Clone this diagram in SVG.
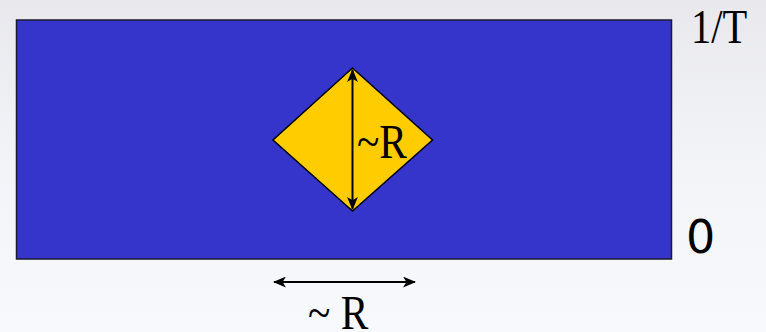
<svg xmlns="http://www.w3.org/2000/svg" width="766" height="332" viewBox="0 0 766 332">
<defs>
<linearGradient id="bg" x1="0" y1="0" x2="0" y2="1">
<stop offset="0" stop-color="#e8e8ed"/>
<stop offset="0.5" stop-color="#f3f4f8"/>
<stop offset="1" stop-color="#f8f9fd"/>
</linearGradient>
<marker id="ah" viewBox="0 0 12 10" refX="11" refY="5" markerWidth="13" markerHeight="11" markerUnits="userSpaceOnUse" orient="auto-start-reverse">
<path d="M0,0 L12,5 L0,10 L3,5 Z" fill="#000"/>
</marker>
<style>
.serif{font-family:"Liberation Serif","DejaVu Serif",serif;fill:#000}
.sans{font-family:"DejaVu Sans","Liberation Sans",sans-serif;fill:#000}
.arrow{stroke:#000;stroke-width:2;fill:none}
</style>
</defs>
<rect x="0" y="0" width="766" height="332" fill="url(#bg)"/>
<g id="strip">
<rect x="16.5" y="20" width="655" height="239" fill="#3535cc" stroke="#1a1a30" stroke-width="1.5"/>
</g>
<g id="diamond">
<polygon points="352.5,68 432.5,140 352.5,211 273,140" fill="#ffcc00" stroke="#000" stroke-width="1.5"/>
</g>
<g id="connectors">
<line class="arrow" x1="352.5" y1="70" x2="352.5" y2="209" marker-start="url(#ah)" marker-end="url(#ah)"/>
<line class="arrow" x1="274" y1="282" x2="415" y2="282" marker-start="url(#ah)" marker-end="url(#ah)"/>
</g>
<g id="labels">
<text class="serif" x="357" y="158" font-size="44" transform="translate(357 158) scale(0.94 1.08) translate(-357 -158)">~R</text>
<text class="serif" x="308" y="329" font-size="44" transform="translate(308 329) scale(0.94 1.08) translate(-308 -329)">~ R</text>
<text class="serif" x="691" y="43" font-size="44" transform="translate(691 43) scale(0.92 1.1) translate(-691 -43)">1/T</text>
<text class="sans" x="686" y="253" font-size="46">0</text>
</g>
</svg>
